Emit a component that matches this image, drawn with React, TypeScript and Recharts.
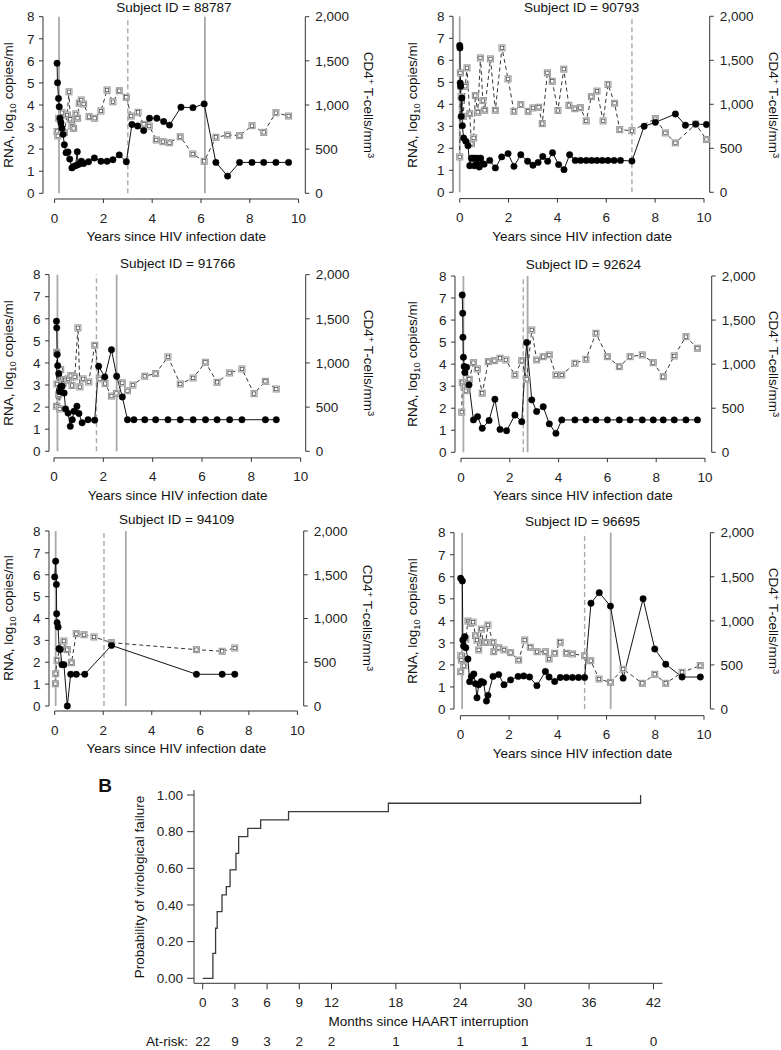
import React from 'react';
import { ComposedChart, Line, XAxis, YAxis, ReferenceLine } from 'recharts';

const FONT = '"Liberation Sans", Arial, Helvetica, sans-serif';

// ---------- Subject 88787 ----------
const s88787RnaYears = [0.10, 0.12, 0.16, 0.19, 0.22, 0.26, 0.30, 0.35, 0.40, 0.47, 0.55, 0.62, 0.71, 0.78, 0.86, 0.93, 0.96, 1.02, 1.10, 1.19, 1.39, 1.63, 1.90, 2.15, 2.39, 2.65, 2.94, 3.17, 3.40, 3.65, 3.89, 4.19, 4.47, 4.71, 5.18, 5.67, 6.13, 6.61, 7.09, 7.58, 8.09, 8.57, 9.07, 9.59];
const s88787Rna = [5.89, 5.01, 4.30, 3.92, 3.40, 3.20, 2.95, 2.67, 2.20, 1.84, 1.87, 1.55, 1.15, 1.22, 1.25, 1.88, 1.30, 1.33, 1.45, 1.35, 1.43, 1.60, 1.45, 1.45, 1.52, 1.74, 1.43, 3.12, 3.05, 2.84, 3.40, 3.40, 3.25, 3.09, 3.90, 3.88, 4.05, 1.40, 0.78, 1.40, 1.40, 1.40, 1.40, 1.40];
const s88787Cd4Years = [0.10, 0.13, 0.17, 0.23, 0.30, 0.40, 0.51, 0.59, 0.64, 0.71, 0.78, 0.87, 0.94, 1.01, 1.09, 1.19, 1.41, 1.64, 1.90, 2.15, 2.39, 2.65, 2.94, 3.14, 3.42, 3.65, 3.88, 4.17, 4.44, 4.71, 5.15, 5.66, 6.13, 6.61, 7.09, 7.58, 8.09, 8.57, 9.07, 9.59];
const s88787Cd4 = [700, 650, 850, 838, 913, 690, 887, 1150, 838, 762, 735, 900, 850, 1020, 1057, 1011, 868, 850, 932, 1170, 1037, 1162, 1087, 875, 917, 781, 762, 604, 585, 573, 641, 445, 362, 634, 660, 653, 766, 690, 913, 875];
const s88787Events = [0.18, 3.0, 6.16];
const s88787EventDashed = [false, true, false];

// ---------- Subject 90793 ----------
const s90793RnaYears = [0.00, 0.01, 0.02, 0.04, 0.06, 0.09, 0.11, 0.16, 0.25, 0.34, 0.41, 0.48, 0.55, 0.60, 0.65, 0.70, 0.75, 0.80, 0.86, 0.93, 1.00, 1.23, 1.46, 1.72, 1.98, 2.22, 2.50, 2.78, 3.00, 3.21, 3.40, 3.60, 3.80, 4.05, 4.27, 4.50, 4.73, 4.95, 5.18, 5.40, 5.62, 5.84, 6.07, 6.32, 6.58, 7.05, 7.55, 8.01, 8.83, 9.24, 9.66, 10.1];
const s90793Rna = [6.67, 6.56, 4.97, 4.82, 3.45, 4.29, 3.03, 2.47, 2.32, 2.12, 1.21, 1.55, 1.55, 1.21, 1.55, 1.25, 1.55, 1.15, 1.55, 1.30, 1.28, 1.45, 1.11, 1.61, 1.76, 1.18, 1.71, 1.41, 1.23, 1.36, 1.63, 1.41, 1.80, 1.26, 1.03, 1.71, 1.45, 1.45, 1.45, 1.45, 1.45, 1.45, 1.45, 1.45, 1.45, 1.42, 3.00, 3.18, 3.56, 3.05, 3.10, 3.08];
const s90793Cd4Years = [0.00, 0.03, 0.04, 0.06, 0.14, 0.23, 0.30, 0.41, 0.48, 0.57, 0.64, 0.74, 0.85, 0.95, 1.02, 1.26, 1.46, 1.73, 1.98, 2.22, 2.50, 2.80, 3.00, 3.23, 3.38, 3.59, 3.79, 4.02, 4.26, 4.47, 4.71, 4.94, 5.18, 5.39, 5.62, 5.87, 6.07, 6.34, 6.55, 7.05, 8.01, 8.42, 8.83, 9.66, 10.1];
const s90793Cd4 = [402, 1357, 1205, 1084, 863, 1205, 1414, 894, 553, 618, 1099, 909, 1527, 1042, 932, 1516, 932, 1641, 1289, 920, 997, 920, 959, 966, 781, 1357, 1261, 930, 1400, 987, 950, 962, 812, 1087, 1150, 812, 1225, 1012, 712, 700, 837, 675, 562, 775, 600];
const s90793Events = [0.0, 7.05];
const s90793EventDashed = [false, true];

// ---------- Subject 91766 ----------
const s91766RnaYears = [0.10, 0.11, 0.13, 0.15, 0.19, 0.23, 0.27, 0.33, 0.41, 0.47, 0.57, 0.66, 0.74, 0.81, 0.93, 1.01, 1.14, 1.38, 1.65, 1.81, 2.06, 2.33, 2.54, 2.77, 2.98, 3.24, 3.68, 4.12, 4.62, 5.12, 5.64, 6.14, 6.61, 7.12, 7.62, 8.57, 9.01];
const s91766Rna = [5.89, 5.59, 4.38, 3.88, 3.52, 2.70, 2.92, 2.95, 2.64, 1.92, 1.73, 1.13, 1.43, 1.81, 2.04, 1.71, 1.29, 1.43, 1.41, 3.85, 3.37, 4.60, 3.40, 2.46, 1.43, 1.43, 1.43, 1.43, 1.43, 1.43, 1.43, 1.43, 1.43, 1.43, 1.43, 1.43, 1.43];
const s91766Cd4Years = [0.10, 0.11, 0.12, 0.19, 0.23, 0.27, 0.33, 0.37, 0.46, 0.57, 0.68, 0.73, 0.84, 0.97, 1.05, 1.18, 1.41, 1.65, 1.85, 2.07, 2.33, 2.53, 2.77, 2.98, 3.20, 3.68, 4.12, 4.62, 5.12, 5.64, 6.14, 6.61, 7.12, 7.62, 8.11, 8.57, 9.01];
const s91766Cd4 = [510, 1120, 762, 640, 480, 925, 812, 775, 805, 820, 857, 745, 842, 1397, 730, 820, 785, 1200, 820, 767, 625, 655, 775, 685, 750, 850, 880, 1068, 762, 830, 1007, 781, 887, 932, 653, 792, 705];
const s91766Events = [0.14, 1.72, 2.54];
const s91766EventDashed = [false, true, false];

// ---------- Subject 92624 ----------
const s92624RnaYears = [0.05, 0.07, 0.08, 0.10, 0.13, 0.16, 0.23, 0.33, 0.51, 0.68, 0.87, 1.15, 1.39, 1.60, 1.87, 2.21, 2.49, 2.69, 2.90, 3.10, 3.37, 3.62, 3.89, 4.13, 4.67, 5.12, 5.53, 6.00, 6.49, 6.93, 7.43, 7.88, 8.29, 8.74, 9.22, 9.69];
const s92624Rna = [7.14, 6.31, 5.22, 4.31, 3.89, 3.62, 3.86, 3.06, 1.47, 1.62, 1.09, 1.44, 2.41, 1.04, 0.98, 1.69, 1.39, 4.98, 2.38, 1.85, 2.07, 1.29, 0.86, 1.47, 1.47, 1.47, 1.47, 1.47, 1.47, 1.47, 1.47, 1.47, 1.47, 1.47, 1.47, 1.47];
const s92624Cd4Years = [0.03, 0.05, 0.12, 0.20, 0.27, 0.34, 0.51, 0.67, 0.87, 1.12, 1.37, 1.60, 1.84, 2.21, 2.49, 2.69, 2.90, 3.10, 3.37, 3.62, 3.89, 4.13, 4.67, 5.12, 5.53, 6.00, 6.49, 6.93, 7.43, 7.88, 8.29, 8.74, 9.22, 9.69];
const s92624Cd4 = [455, 790, 745, 700, 750, 828, 1017, 946, 670, 1029, 1040, 1067, 1048, 877, 1040, 828, 1388, 1048, 1085, 1105, 877, 877, 1010, 1055, 1350, 1085, 972, 1085, 1105, 1017, 858, 1093, 1312, 1180];
const s92624Events = [0.10, 2.55, 2.73];
const s92624EventDashed = [false, true, false];

// ---------- Subject 94109 ----------
const s94109RnaYears = [0.00, 0.04, 0.07, 0.08, 0.10, 0.14, 0.18, 0.23, 0.30, 0.38, 0.52, 0.66, 0.89, 1.24, 2.34, 5.84, 6.90, 7.42];
const s94109Rna = [5.90, 6.62, 5.56, 4.22, 3.81, 3.61, 2.62, 2.58, 1.89, 1.89, 0.00, 1.45, 1.45, 1.45, 2.77, 1.45, 1.45, 1.45];
const s94109Cd4Years = [0.03, 0.04, 0.10, 0.21, 0.32, 0.38, 0.52, 0.69, 0.89, 1.21, 1.62, 2.34, 5.84, 6.90, 7.42];
const s94109Cd4 = [255, 370, 522, 655, 693, 743, 644, 495, 827, 815, 789, 724, 644, 625, 663];
const s94109Events = [0.04, 2.03, 2.93];
const s94109EventDashed = [false, true, false];

// ---------- Subject 96695 ----------
const s96695RnaYears = [0.01, 0.08, 0.10, 0.13, 0.18, 0.22, 0.31, 0.38, 0.45, 0.55, 0.62, 0.68, 0.75, 0.86, 0.95, 1.07, 1.13, 1.34, 1.57, 1.79, 2.06, 2.37, 2.60, 2.84, 3.14, 3.49, 3.64, 3.87, 4.10, 4.35, 4.60, 4.85, 5.10, 5.36, 5.70, 6.16, 6.68, 7.50, 7.98, 8.43, 9.10, 9.85];
const s96695Rna = [5.93, 5.81, 3.13, 2.86, 3.28, 2.78, 2.27, 1.24, 1.47, 1.59, 1.15, 0.51, 1.10, 1.25, 1.20, 0.36, 0.62, 1.48, 1.56, 1.10, 1.32, 1.48, 1.50, 1.45, 1.06, 1.70, 1.45, 1.25, 1.43, 1.43, 1.43, 1.43, 1.43, 4.80, 5.28, 4.67, 1.40, 5.00, 2.72, 2.03, 1.45, 1.45];
const s96695Cd4Years = [0.01, 0.02, 0.04, 0.14, 0.22, 0.31, 0.42, 0.52, 0.62, 0.68, 0.75, 0.86, 0.93, 1.04, 1.13, 1.34, 1.37, 1.57, 1.79, 2.06, 2.39, 2.64, 2.87, 3.15, 3.49, 3.64, 3.87, 4.10, 4.35, 4.60, 5.10, 5.35, 5.69, 6.16, 6.68, 7.47, 7.98, 8.43, 9.10, 9.85];
const s96695Cd4 = [423, 605, 555, 492, 794, 998, 972, 985, 832, 782, 670, 907, 755, 755, 953, 755, 650, 695, 670, 640, 555, 782, 700, 650, 650, 567, 632, 757, 632, 625, 605, 548, 340, 302, 453, 291, 393, 291, 416, 492];
const s96695Events = [0.07, 5.1, 6.17];
const s96695EventDashed = [false, true, false];

// ---------- Axis ticks ----------
const yearTicks = [0, 2, 4, 6, 8, 10];
const rnaTicks = [0, 1, 2, 3, 4, 5, 6, 7, 8];
const cd4Ticks = [0, 500, 1000, 1500, 2000];

// ---------- Kaplan-Meier (panel B) ----------
const kmMonths = [0, 0.95, 1.2, 1.35, 1.8, 2.2, 2.55, 3.1, 3.35, 4.2, 5.4, 8.0, 17.3, 40.8];
const kmProb = [0, 0.136, 0.273, 0.364, 0.455, 0.5, 0.591, 0.682, 0.773, 0.818, 0.864, 0.909, 0.955, 1.0];
const kmMonthTicks = [0, 3, 6, 9, 12, 18, 24, 30, 36, 42];
const kmAtRisk = [22, 9, 3, 2, 2, 1, 1, 1, 1, 0];
const kmProbTicks = [0, 0.2, 0.4, 0.6, 0.8, 1.0];

const zip = (ts: number[], vs: number[]) => ts.map((t, i) => ({ t, v: vs[i] }));

const SquareDot = (props: any) => {
  const { cx, cy, index } = props;
  if (cx == null || cy == null) return <g key={`e-${index}`} />;
  return (
    <g key={`sq-${index}`}>
      <rect x={cx - 3} y={cy - 3} width={6} height={6} fill="#fff" stroke="#9c9c9c" strokeWidth={1.1} />
      <rect x={cx - 1.7} y={cy - 1.7} width={3.4} height={3.4} fill="none" stroke="#444" strokeWidth={0.7} />
    </g>
  );
};

const Txt = ({ x, y, rot = 0, size = 13.5, weight, children }: any) => (
  <div
    style={{
      position: 'absolute',
      left: x,
      top: y,
      transform: `translate(-50%, -50%) rotate(${rot}deg)`,
      whiteSpace: 'nowrap',
      fontSize: size,
      fontFamily: FONT,
      lineHeight: 1,
      color: '#111',
      fontWeight: weight,
    }}
  >
    {children}
  </div>
);

type Geo = { L: number; R: number; x0: number; x10: number; y8: number; y0: number; B: number; leftTitleX: number; rightTitleX: number };

function Panel({ g, title, rna, cd4, events, dashed }: { g: Geo; title: string; rna: any[]; cd4: any[]; events: number[]; dashed: boolean[] }) {
  const pxT = (g.x10 - g.x0) / 10;
  const xMin = (g.L - g.x0) / pxT;
  const xMax = (g.R - g.x0) / pxT;
  const pxV = (g.y0 - g.y8) / 8;
  const pad = g.B - g.y0;
  const T = g.y8 - pad;
  const yMin = -pad / pxV;
  const yMax = 8 + pad / pxV;
  const W = g.R - g.L + 120;
  const H = g.B - T + 60;
  const tickStyle = { fill: '#222', fontSize: 13.5, fontFamily: FONT };
  const midY = (g.y8 + g.y0) / 2;
  return (
    <>
      <div style={{ position: 'absolute', left: g.L - 60, top: T - 15, width: W, height: H }}>
        <ComposedChart width={W} height={H} margin={{ top: 15, right: 20, bottom: 20, left: 20 }}>
          <XAxis
            type="number"
            dataKey="t"
            domain={[xMin, xMax]}
            allowDataOverflow
            ticks={yearTicks}
            axisLine={false}
            tickLine={{ stroke: '#333' }}
            tickSize={4}
            tickMargin={10}
            height={25}
            tick={tickStyle}
            interval={0}
          />
          <YAxis
            yAxisId="l"
            type="number"
            domain={[yMin, yMax]}
            allowDataOverflow
            ticks={rnaTicks}
            axisLine={false}
            tickLine={{ stroke: '#333' }}
            tickSize={4}
            tickMargin={4.5}
            width={40}
            tick={tickStyle}
            interval={0}
          />
          <YAxis
            yAxisId="r"
            orientation="right"
            type="number"
            domain={[yMin * 250, yMax * 250]}
            allowDataOverflow
            ticks={cd4Ticks}
            tickFormatter={(v: number) => v.toLocaleString('en-US')}
            axisLine={false}
            tickLine={{ stroke: '#333' }}
            tickSize={4}
            tickMargin={6}
            width={40}
            tick={tickStyle}
            interval={0}
          />
          <ReferenceLine yAxisId="l" segment={[{ x: 0, y: yMin }, { x: 10, y: yMin }]} stroke="#333" strokeWidth={1} ifOverflow="visible" />
          <ReferenceLine yAxisId="l" segment={[{ x: xMin, y: 0 }, { x: xMin, y: 8 }]} stroke="#333" strokeWidth={1} ifOverflow="visible" />
          <ReferenceLine yAxisId="l" segment={[{ x: xMax, y: 0 }, { x: xMax, y: 8 }]} stroke="#333" strokeWidth={1} ifOverflow="visible" />
          {events.map((e, i) => (
            <ReferenceLine
              key={`ev-${i}`}
              yAxisId="l"
              segment={[{ x: e, y: 0 }, { x: e, y: 8 }]}
              stroke="#a9a9a9"
              strokeWidth={dashed[i] ? 1.4 : 1.8}
              strokeDasharray={dashed[i] ? '5 3' : undefined}
              ifOverflow="visible"
            />
          ))}
          <Line
            yAxisId="r"
            data={cd4}
            dataKey="v"
            type="linear"
            stroke="#333"
            strokeWidth={1}
            strokeDasharray="4 3"
            dot={SquareDot}
            isAnimationActive={false}
          />
          <Line
            yAxisId="l"
            data={rna}
            dataKey="v"
            type="linear"
            stroke="#111"
            strokeWidth={1}
            dot={{ r: 3.2, fill: '#000', stroke: '#000', strokeWidth: 0.5 }}
            isAnimationActive={false}
          />
        </ComposedChart>
      </div>
      <Txt x={(g.L + g.R) / 2} y={Math.max(g.y8 - 11, 7.5)}>{title}</Txt>
      <Txt x={g.leftTitleX} y={midY} rot={-90}>
        RNA, log<span style={{ fontSize: '0.7em', position: 'relative', top: '0.3em' }}>10</span> copies/ml
      </Txt>
      <Txt x={g.rightTitleX} y={midY} rot={90}>
        CD4<span style={{ fontSize: '0.7em', position: 'relative', top: '-0.45em' }}>+</span> T-cells/mm<span style={{ fontSize: '0.7em', position: 'relative', top: '-0.45em' }}>3</span>
      </Txt>
      <Txt x={(g.x0 + g.x10) / 2} y={g.B + 38}>Years since HIV infection date</Txt>
    </>
  );
}

const geoTL: Geo = { L: 42.7, R: 305, x0: 54.3, x10: 298.3, y8: 16.7, y0: 193.3, B: 199, leftTitleX: 8.5, rightTitleX: 368 };
const geoTR: Geo = { L: 453.3, R: 710, x0: 460, x10: 704.3, y8: 16.7, y0: 192.7, B: 199, leftTitleX: 413, rightTitleX: 773 };
const geoML: Geo = { L: 49.3, R: 306, x0: 54.3, x10: 301, y8: 275, y0: 451.7, B: 458.3, leftTitleX: 8.5, rightTitleX: 368 };
const geoMR: Geo = { L: 455, R: 711.7, x0: 461, x10: 705, y8: 276, y0: 452.3, B: 458.3, leftTitleX: 413, rightTitleX: 773 };
const geoBL: Geo = { L: 49.3, R: 304, x0: 55, x10: 297.7, y8: 530.7, y0: 705.7, B: 710.7, leftTitleX: 8.5, rightTitleX: 367 };
const geoBR: Geo = { L: 454.3, R: 710.7, x0: 460.7, x10: 704.3, y8: 532.7, y0: 709, B: 715.7, leftTitleX: 413, rightTitleX: 773 };

function KMChart() {
  const data = kmMonths.map((m, i) => ({ m, p: kmProb[i] }));
  const tickStyle = { fill: '#222', fontSize: 13.5, fontFamily: FONT };
  return (
    <>
      <div style={{ position: 'absolute', left: 100, top: 780, width: 600, height: 290 }}>
        <ComposedChart width={600} height={290} data={data} margin={{ top: 10, right: 37.5, bottom: 21.7, left: 34 }}>
          <XAxis
            type="number"
            dataKey="m"
            domain={[-0.81, 42.84]}
            allowDataOverflow
            ticks={kmMonthTicks}
            interval={0}
            stroke="#333"
            tickSize={6}
            tickMargin={8}
            height={40}
            tick={tickStyle}
          />
          <XAxis
            xAxisId="risk"
            type="number"
            dataKey="m"
            domain={[-0.81, 42.84]}
            allowDataOverflow
            ticks={kmMonthTicks}
            interval={0}
            tickFormatter={(_v: number, i: number) => String(kmAtRisk[i])}
            axisLine={false}
            tickLine={false}
            tickSize={0}
            tickMargin={13.5}
            height={25}
            tick={tickStyle}
          />
          <YAxis
            type="number"
            domain={[-0.0273, 1.0273]}
            allowDataOverflow
            ticks={kmProbTicks}
            interval={0}
            tickFormatter={(v: number) => v.toFixed(2)}
            stroke="#333"
            tickSize={7}
            tickMargin={4}
            width={60}
            tick={tickStyle}
          />
          <Line type="stepAfter" dataKey="p" stroke="#3a3a3a" strokeWidth={1.3} dot={false} isAnimationActive={false} />
        </ComposedChart>
      </div>
      <Txt x={105} y={785} size={19} weight="bold">B</Txt>
      <Txt x={140} y={887} rot={-90}>Probability of virological failure</Txt>
      <Txt x={428.5} y={1021.7}>Months since HAART interruption</Txt>
      <Txt x={167} y={1042}>At-risk:</Txt>
    </>
  );
}

export default function App() {
  return (
    <div style={{ position: 'absolute', left: 0, top: 0, width: 781, height: 1050, overflow: 'hidden', background: '#fff' }}>
      <Panel g={geoTL} title="Subject ID = 88787" rna={zip(s88787RnaYears, s88787Rna)} cd4={zip(s88787Cd4Years, s88787Cd4)} events={s88787Events} dashed={s88787EventDashed} />
      <Panel g={geoTR} title="Subject ID = 90793" rna={zip(s90793RnaYears, s90793Rna)} cd4={zip(s90793Cd4Years, s90793Cd4)} events={s90793Events} dashed={s90793EventDashed} />
      <Panel g={geoML} title="Subject ID = 91766" rna={zip(s91766RnaYears, s91766Rna)} cd4={zip(s91766Cd4Years, s91766Cd4)} events={s91766Events} dashed={s91766EventDashed} />
      <Panel g={geoMR} title="Subject ID = 92624" rna={zip(s92624RnaYears, s92624Rna)} cd4={zip(s92624Cd4Years, s92624Cd4)} events={s92624Events} dashed={s92624EventDashed} />
      <Panel g={geoBL} title="Subject ID = 94109" rna={zip(s94109RnaYears, s94109Rna)} cd4={zip(s94109Cd4Years, s94109Cd4)} events={s94109Events} dashed={s94109EventDashed} />
      <Panel g={geoBR} title="Subject ID = 96695" rna={zip(s96695RnaYears, s96695Rna)} cd4={zip(s96695Cd4Years, s96695Cd4)} events={s96695Events} dashed={s96695EventDashed} />
      <KMChart />
    </div>
  );
}
